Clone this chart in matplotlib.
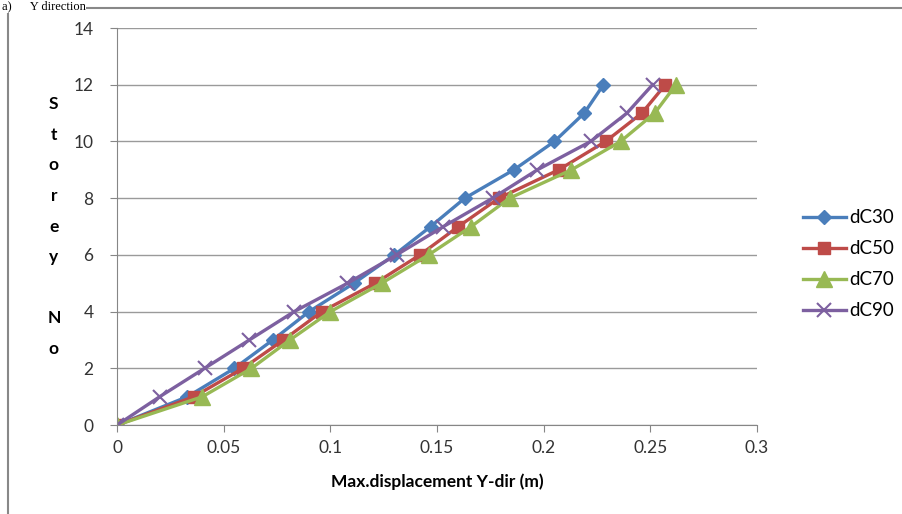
import matplotlib.pyplot as plt
from matplotlib.patches import Rectangle

storey = [0, 1, 2, 3, 4, 5, 6, 7, 8, 9, 10, 11, 12]
dC30 = [0, 0.033, 0.055, 0.073, 0.090, 0.111, 0.130, 0.147, 0.163, 0.186, 0.205, 0.219, 0.228]
dC50 = [0, 0.036, 0.059, 0.078, 0.096, 0.121, 0.142, 0.160, 0.179, 0.207, 0.229, 0.246, 0.257]
dC70 = [0, 0.040, 0.063, 0.081, 0.100, 0.124, 0.146, 0.166, 0.184, 0.213, 0.236, 0.252, 0.262]
dC90 = [0, 0.020, 0.041, 0.062, 0.083, 0.108, 0.131, 0.153, 0.176, 0.197, 0.222, 0.239, 0.251]

series = [
    ("dC30", dC30, "#4A7EBB", "D", 7.5),
    ("dC50", dC50, "#BE4B48", "s", 9),
    ("dC70", dC70, "#98B954", "^", 11),
    ("dC90", dC90, "#7D60A0", "x", 10),
]

plt.rcParams["font.family"] = ["Lato", "DejaVu Sans"]

fig = plt.figure(figsize=(9.03, 5.14), dpi=100)
ax = fig.add_axes([0.1296, 0.173, 0.7088, 0.7725])

for name, vals, color, marker, ms in series:
    ax.plot(vals, storey, color=color, lw=2.4, marker=marker, ms=ms,
            mew=1.5 if marker == "x" else 1, mec=color, mfc=color, label=name)

ax.set_xlim(0, 0.3)
ax.set_ylim(0, 14)
ax.set_xticks([0, 0.05, 0.1, 0.15, 0.2, 0.25, 0.3])
ax.set_xticklabels(["0", "0.05", "0.1", "0.15", "0.2", "0.25", "0.3"])
ax.set_yticks(range(0, 15, 2))
ax.tick_params(labelsize=12.5, colors="#333333", length=5, color="#868686", pad=6)
ax.tick_params(axis="y", pad=12)
ax.yaxis.grid(True, color="#9a9a9a", lw=1)
ax.set_axisbelow(True)
for s in ["top", "right"]:
    ax.spines[s].set_visible(False)
for s in ["left", "bottom"]:
    ax.spines[s].set_color("#868686")

ax.set_xlabel("Max.displacement Y-dir (m)", fontsize=12.5, fontweight="bold", labelpad=12)
ax.set_ylabel("S\nt\no\nr\ne\ny\n\nN\no", rotation=0, fontsize=12.5, fontweight="bold",
              linespacing=2.12, va="center", labelpad=14)

ax.legend(loc="center left", bbox_to_anchor=(1.045, 0.405), frameon=False, fontsize=13.5,
          handlelength=2.3, labelspacing=0.75, handletextpad=0.2)

fig.patches.append(Rectangle((0.009, -0.05), 1.2, 1.034, transform=fig.transFigure,
                             fill=False, edgecolor="#888888", lw=1.5))
fig.text(0.002, 0.999, "a)      Y direction", family="Liberation Serif", fontsize=9,
         va="top", ha="left", bbox=dict(facecolor="white", edgecolor="none", pad=0.5))

fig.savefig("out.png", dpi=100)
